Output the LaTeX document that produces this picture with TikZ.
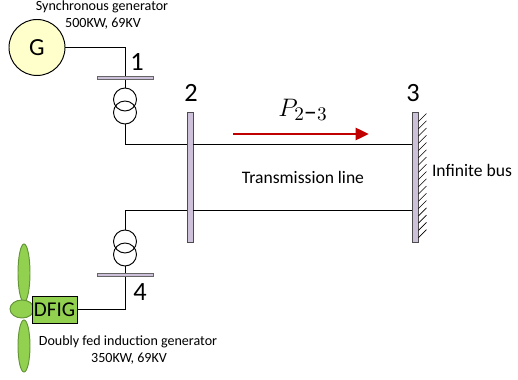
\documentclass[tikz,border=0pt]{standalone}
\usepackage{fontspec}
\setmainfont{Carlito}
\usetikzlibrary{arrows.meta,shapes.geometric}

\definecolor{busfill}{RGB}{204,192,218}
\definecolor{genfill}{RGB}{255,255,204}
\definecolor{dfigfill}{RGB}{146,208,80}
\definecolor{bladeline}{RGB}{100,150,55}
\definecolor{flowred}{RGB}{192,0,0}

\begin{document}
\begin{tikzpicture}[line width=0.55pt,
        hbus/.style={draw=black!60, fill=busfill, minimum width=1.12cm, minimum height=0.07cm, inner sep=0pt},
        vbus/.style={draw=black!70, fill=busfill, minimum width=0.12cm, minimum height=2.6cm, inner sep=0pt},
        busnum/.style={font=\fontsize{15}{16}\selectfont},
        coil/.style={circle, draw, minimum size=0.46cm, inner sep=0pt},
        blade/.style={ellipse, draw=bladeline, fill=dfigfill, inner sep=0pt},
        note/.style={font=\fontsize{8}{9}\selectfont},
        flow/.style={draw=flowred, line width=1.7pt, -{Triangle[length=0.27cm, width=0.24cm]}}]
        \useasboundingbox (0,0) rectangle (10.36,-7.6);

        \node (G) [circle, draw, fill=genfill, minimum size=1.12cm, font=\fontsize{14}{16}\selectfont] at (0.74,-0.95) {G};
        \node (b1) [hbus] at (2.5,-1.56) {};
        \node (b2) [vbus] at (3.8,-3.54) {};
        \node (b3) [vbus] at (8.3,-3.54) {};
        \node (b4) [hbus] at (2.5,-5.5) {};
        \node (c1a) [coil] at (2.5,-1.99) {};
        \node (c1b) [coil] at (2.5,-2.25) {};
        \node (c4a) [coil] at (2.5,-4.83) {};
        \node (c4b) [coil] at (2.5,-5.09) {};

        \node (bl1) [blade, minimum width=0.24cm, minimum height=1.16cm] at (0.48,-5.46) {};
        \node (bl2) [blade, minimum width=0.24cm, minimum height=1.04cm] at (0.48,-6.92) {};
        \node (hub) [blade, minimum width=0.48cm, minimum height=0.36cm] at (0.44,-6.18) {};
        \node (dfig) [draw, fill=dfigfill, minimum width=0.9cm, minimum height=0.54cm, inner sep=0pt, font=\fontsize{12}{14}\selectfont] at (1.09,-6.19) {DFIG};

        \coordinate (u) at (0,-2.88);
        \coordinate (l) at (0,-4.2);
        \coordinate (ps) at (4.66,-2.68);
        \coordinate (pe) at (7.38,-2.68);

        \draw (G) -| (b1);
        \draw (b1) -- (c1a);
        \draw (c1b) |- (b2.west |- u);
        \draw (b2.east |- u) -- (b3.west |- u);
        \draw (b2.east |- l) -- (b3.west |- l);
        \draw (c4a) |- (b2.west |- l);
        \draw (c4b) -- (b4);
        \draw (b4) |- (dfig);
        \draw[flow] (ps) -- (pe);

        \foreach \i in {0,...,16}
          \draw[line width=0.4pt] ([yshift=-0.2cm-\i*0.145cm]b3.north east) -- ++(0.16,0.16);

        \node (n1) [busnum] at (2.74,-1.24) {1};
        \node (n2) [busnum] at (3.82,-1.86) {2};
        \node (n3) [busnum] at (8.26,-1.86) {3};
        \node (n4) [busnum] at (2.8,-5.84) {4};
        \node (p23) [font=\fontsize{15}{17}\selectfont] at (6.06,-2.2) {$P_{2\textrm{--}3}$};

        \node (sg) [note] at (2.04,-0.14) {Synchronous generator};
        \node (sgr) [note] at (2.06,-0.48) {500KW, 69KV};
        \node (tl) [font=\fontsize{10}{12}\selectfont] at (6.06,-3.54) {Transmission line};
        \node (ib) [font=\fontsize{10}{12}\selectfont] at (9.44,-3.4) {Infinite bus};
        \node (dg) [note] at (2.56,-6.84) {Doubly fed induction generator};
        \node (dgr) [note] at (2.58,-7.18) {350KW, 69KV};
      \end{tikzpicture}
\end{document}
